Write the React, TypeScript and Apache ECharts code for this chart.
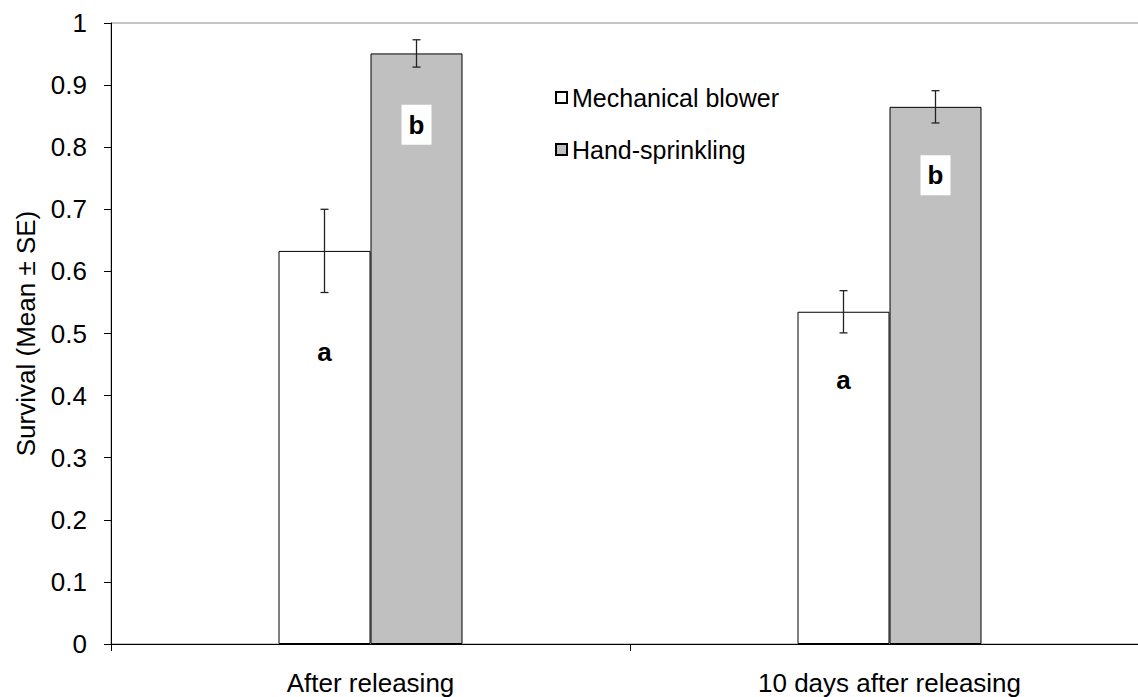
import React, { useEffect, useRef } from "react";
import * as echarts from "echarts";

const categories = ["After releasing", "10 days after releasing"];
const seriesNames = ["Mechanical blower", "Hand-sprinkling"];
const mechanicalMean = [0.633, 0.535];
const mechanicalSE = [0.067, 0.034];
const handMean = [0.951, 0.865];
const handSE = [0.022, 0.026];
const mechanicalLetters = ["a", "a"];
const handLetters = ["b", "b"];
// vertical anchor of the significance letters, in data units
const mechanicalLetterY = [0.47, 0.425];
const handLetterY = [0.836, 0.755];
const yTicks = [0, 0.1, 0.2, 0.3, 0.4, 0.5, 0.6, 0.7, 0.8, 0.9, 1];

const FONT = '"Liberation Sans", Arial, sans-serif';
const BAR_W = 92;
const FS = 26;

export default function App() {
  const ref = useRef<HTMLDivElement>(null);
  useEffect(() => {
    if (!ref.current) return;
    const chart = echarts.init(ref.current, null, { renderer: "svg" });

    const errData = (means: number[], ses: number[]) =>
      means.map((m, i) => [i, m, ses[i]]);
    const letterData = (ys: number[]) => ys.map((y, i) => [i, y]);

    const makeErr = (offset: number) => (params: any, api: any) => {
      const i = api.value(0);
      const m = api.value(1);
      const se = api.value(2);
      const top = api.coord([i, m + se]);
      const bot = api.coord([i, m - se]);
      const x = top[0] + offset;
      const cap = 4;
      const st = { stroke: "#222", lineWidth: 1.3 };
      return {
        type: "group",
        children: [
          { type: "line", shape: { x1: x, y1: top[1], x2: x, y2: bot[1] }, style: st },
          { type: "line", shape: { x1: x - cap, y1: top[1], x2: x + cap, y2: top[1] }, style: st },
          { type: "line", shape: { x1: x - cap, y1: bot[1], x2: x + cap, y2: bot[1] }, style: st },
        ],
      };
    };

    const makeLetter = (offset: number, boxed: boolean, letters: string[]) => (params: any, api: any) => {
      const i = api.value(0);
      const y = api.value(1);
      const p = api.coord([i, y]);
      const x = p[0] + offset;
      const children: any[] = [];
      if (boxed) {
        children.push({
          type: "rect",
          shape: { x: x - 15, y: p[1] - 20, width: 30, height: 40 },
          style: { fill: "#ffffff" },
        });
      }
      children.push({
        type: "text",
        x,
        y: p[1],
        style: {
          text: letters[i],
          fill: "#000",
          font: `bold ${FS}px ${FONT}`,
          align: "center",
          verticalAlign: "middle",
        },
      });
      return { type: "group", children };
    };

    chart.setOption({
      animation: false,
      textStyle: { fontFamily: FONT },
      grid: {
        left: 111,
        top: 23,
        width: 1038,
        height: 621,
        containLabel: false,
        outerBoundsMode: "none",
        show: true,
        borderColor: "#8c8c8c",
        borderWidth: 1,
        backgroundColor: "transparent",
      },
      legend: {
        data: seriesNames,
        orient: "vertical",
        left: 550,
        top: 80,
        itemGap: 27,
        itemWidth: 11,
        itemHeight: 11,
        icon: "rect",
        textStyle: { fontSize: 25, color: "#000", fontFamily: FONT },
      },
      xAxis: {
        type: "category",
        data: categories,
        axisLine: { lineStyle: { color: "#000", width: 1 } },
        axisTick: { show: true, length: 7, lineStyle: { color: "#000" } },
        axisLabel: { fontSize: FS, color: "#000", margin: 26, fontFamily: FONT },
      },
      yAxis: {
        type: "value",
        min: 0,
        max: 1,
        interval: 0.1,
        name: "Survival (Mean ± SE)",
        nameLocation: "middle",
        nameRotate: 90,
        nameGap: 72,
        nameTextStyle: { fontSize: FS, color: "#000", fontFamily: FONT },
        axisLine: { show: true, lineStyle: { color: "#000", width: 1 } },
        axisTick: { show: true, length: 7, inside: false, lineStyle: { color: "#000" } },
        axisLabel: {
          fontSize: FS,
          color: "#000",
          margin: 24,
          fontFamily: FONT,
          formatter: (v: number) => {
            const t = yTicks.find((k) => Math.abs(k - v) < 1e-9);
            return String(t !== undefined ? Math.round(t * 10) / 10 : v);
          },
        },
        splitLine: { show: false },
      },
      series: [
        {
          name: seriesNames[0],
          type: "bar",
          data: mechanicalMean,
          barWidth: BAR_W,
          barGap: "0%",
          itemStyle: { color: "#ffffff", borderColor: "#000", borderWidth: 1 },
        },
        {
          name: seriesNames[1],
          type: "bar",
          data: handMean,
          barWidth: BAR_W,
          barGap: "0%",
          itemStyle: { color: "#c0c0c0", borderColor: "#000", borderWidth: 1 },
        },
        {
          name: "errMech",
          type: "custom",
          renderItem: makeErr(-BAR_W / 2),
          data: errData(mechanicalMean, mechanicalSE),
          z: 5,
          clip: false,
        },
        {
          name: "errHand",
          type: "custom",
          renderItem: makeErr(BAR_W / 2),
          data: errData(handMean, handSE),
          z: 5,
          clip: false,
        },
        {
          name: "lettersMech",
          type: "custom",
          renderItem: makeLetter(-BAR_W / 2, false, mechanicalLetters),
          data: letterData(mechanicalLetterY),
          z: 6,
          clip: false,
        },
        {
          name: "lettersHand",
          type: "custom",
          renderItem: makeLetter(BAR_W / 2, true, handLetters),
          data: letterData(handLetterY),
          z: 6,
          clip: false,
        },
      ],
    });
    return () => chart.dispose();
  }, []);
  return (
    <div
      ref={ref}
      style={{ position: "absolute", left: 0, top: 0, width: 1138, height: 697, background: "#fff" }}
    />
  );
}
